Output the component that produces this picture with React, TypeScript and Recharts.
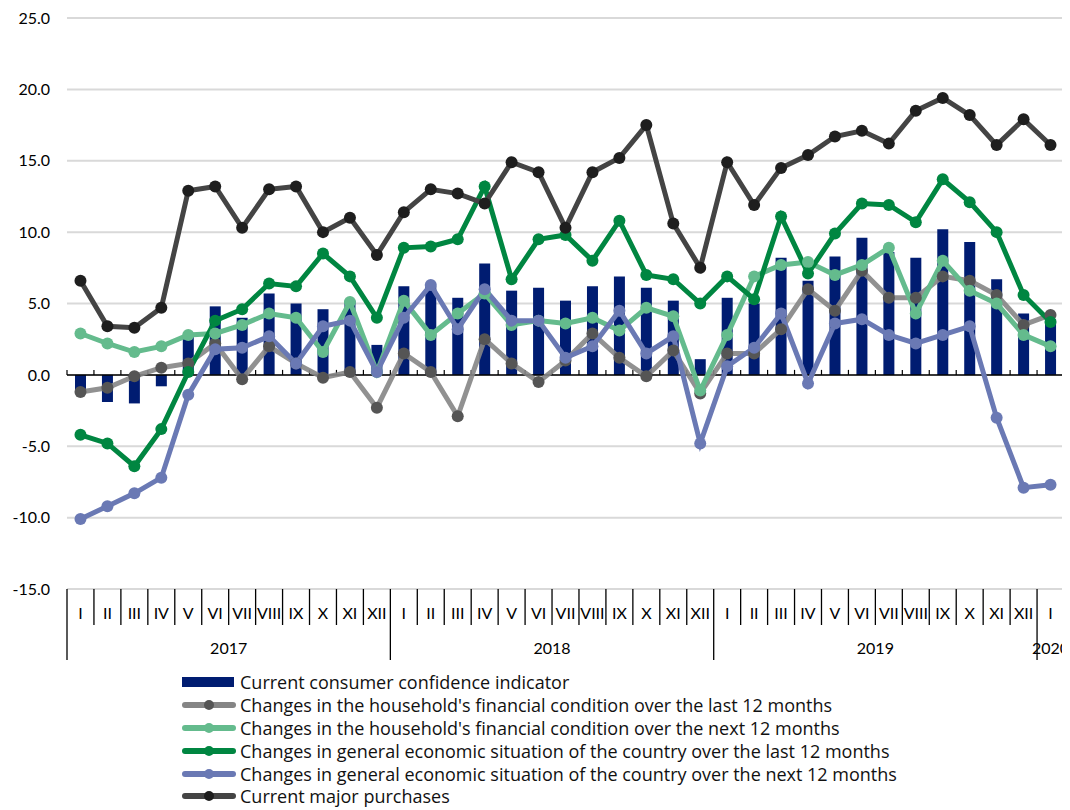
import React from 'react';
import {
  ComposedChart,
  Bar,
  Line,
  XAxis,
  YAxis,
  CartesianGrid,
  ReferenceLine,
  Legend
} from 'recharts';

// Jan 2017 .. Jan 2020
const MONTHS = [
  'I', 'II', 'III', 'IV', 'V', 'VI', 'VII', 'VIII', 'IX', 'X', 'XI', 'XII',
  'I', 'II', 'III', 'IV', 'V', 'VI', 'VII', 'VIII', 'IX', 'X', 'XI', 'XII',
  'I', 'II', 'III', 'IV', 'V', 'VI', 'VII', 'VIII', 'IX', 'X', 'XI', 'XII',
  'I'
];
const YEARS = [
  '2017', '2017', '2017', '2017', '2017', '2017', '2017', '2017', '2017', '2017', '2017', '2017',
  '2018', '2018', '2018', '2018', '2018', '2018', '2018', '2018', '2018', '2018', '2018', '2018',
  '2019', '2019', '2019', '2019', '2019', '2019', '2019', '2019', '2019', '2019', '2019', '2019',
  '2020'
];

const confidence = [
  -1.2, -1.9, -2.0, -0.8, 2.7, 4.8, 4.0, 5.7, 5.0, 4.6, 5.2, 2.1,
  6.2, 6.2, 5.4, 7.8, 5.9, 6.1, 5.2, 6.2, 6.9, 6.1, 5.2, 1.1,
  5.4, 5.0, 8.2, 6.6, 8.3, 9.6, 8.6, 8.2, 10.2, 9.3, 6.7, 4.3,
  3.9
];
const householdLast = [
  -1.2, -0.9, -0.1, 0.5, 0.8, 2.2, -0.3, 2.0, 0.8, -0.2, 0.2, -2.3,
  1.5, 0.2, -2.9, 2.5, 0.8, -0.5, 1.0, 2.9, 1.2, -0.1, 1.7, -1.3,
  1.5, 1.5, 3.2, 6.0, 4.5, 7.3, 5.4, 5.4, 6.9, 6.6, 5.6, 3.5,
  4.2
];
const householdNext = [
  2.9, 2.2, 1.6, 2.0, 2.8, 2.9, 3.5, 4.3, 4.0, 1.6, 5.1, 0.2,
  5.2, 2.8, 4.3, 5.7, 3.5, 3.8, 3.6, 4.0, 3.1, 4.7, 4.1, -1.1,
  2.8, 6.9, 7.7, 7.9, 7.0, 7.7, 8.9, 4.3, 8.0, 5.9, 5.0, 2.8,
  2.0
];
const economyLast = [
  -4.2, -4.8, -6.4, -3.8, 0.2, 3.8, 4.6, 6.4, 6.2, 8.5, 6.9, 4.0,
  8.9, 9.0, 9.5, 13.2, 6.7, 9.5, 9.8, 8.0, 10.8, 7.0, 6.7, 5.0,
  6.9, 5.3, 11.1, 7.1, 9.9, 12.0, 11.9, 10.7, 13.7, 12.1, 10.0, 5.6,
  3.7
];
const economyNext = [
  -10.1, -9.2, -8.3, -7.2, -1.4, 1.8, 1.9, 2.7, 0.8, 3.4, 3.8, 0.2,
  4.0, 6.3, 3.2, 6.0, 3.8, 3.8, 1.2, 2.0, 4.5, 1.5, 2.7, -4.8,
  0.6, 1.9, 4.3, -0.6, 3.6, 3.9, 2.8, 2.2, 2.8, 3.4, -3.0, -7.9,
  -7.7
];
const majorPurchases = [
  6.6, 3.4, 3.3, 4.7, 12.9, 13.2, 10.3, 13.0, 13.2, 10.0, 11.0, 8.4,
  11.4, 13.0, 12.7, 12.0, 14.9, 14.2, 10.3, 14.2, 15.2, 17.5, 10.6, 7.5,
  14.9, 11.9, 14.5, 15.4, 16.7, 17.1, 16.2, 18.5, 19.4, 18.2, 16.1, 17.9,
  16.1
];

const Y_TICKS = [-15, -10, -5, 0, 5, 10, 15, 20, 25];

const SERIES = [
  { key: 'confidence', name: 'Current consumer confidence indicator', color: '#001c71', dot: '#001c71', bar: true },
  { key: 'householdLast', name: "Changes in the household's financial condition over the last 12 months", color: '#858585', dot: '#555555' },
  { key: 'householdNext', name: "Changes in the household's financial condition over the next 12 months", color: '#64bb8d', dot: '#64bb8d' },
  { key: 'economyLast', name: 'Changes in general economic situation of the country over the last 12 months', color: '#008641', dot: '#008641' },
  { key: 'economyNext', name: 'Changes in general economic situation of the country over the next 12 months', color: '#6a79b4', dot: '#6a79b4' },
  { key: 'majorPurchases', name: 'Current major purchases', color: '#444444', dot: '#1e1e1e' }
];

const data = MONTHS.map((month, i) => ({
  period: `${month} ${YEARS[i]}`,
  month,
  year: YEARS[i],
  confidence: confidence[i],
  householdLast: householdLast[i],
  householdNext: householdNext[i],
  economyLast: economyLast[i],
  economyNext: economyNext[i],
  majorPurchases: majorPurchases[i]
}));

const WIDTH = 1062;
const HEIGHT = 800;
const LEGEND_H = 138;
const MARGIN = { top: 10, right: 6, bottom: 0, left: 0 };
const Y_AXIS_W = 59;
const BAND = (WIDTH - MARGIN.left - MARGIN.right - Y_AXIS_W) / data.length;

const AXIS_FONT = 'Lato, "DejaVu Sans", sans-serif';
const LEGEND_FONT = '"Open Sans", "DejaVu Sans", sans-serif';

const PeriodTick = (props: any) => {
  const { x, y, payload } = props;
  const i = props.index ?? payload.index;
  const row = data[i];
  if (!row) return null;
  const half = BAND / 2;
  const left = x - half;
  const firstOfYear = i === 0 || data[i - 1].year !== row.year;
  const monthsInYear = data.filter((d) => d.year === row.year).length;
  return (
    <g>
      <line x1={left} x2={left} y1={y} y2={y + (firstOfYear ? 71 : 36)} stroke="#000" strokeWidth={1.3} />
      <text x={x} y={y + 30} textAnchor="middle" fontSize={16} fontFamily={AXIS_FONT} fill="#000">
        {row.month}
      </text>
      {firstOfYear && (
        <text x={left + monthsInYear * half} y={y + 65} textAnchor="middle" fontSize={16} fontFamily={AXIS_FONT} fill="#000">
          {row.year}
        </text>
      )}
      {i === data.length - 1 && (
        <line x1={x + half} x2={x + half} y1={y} y2={y + 71} stroke="#000" strokeWidth={1.3} />
      )}
    </g>
  );
};

// zero line with small ticks at the month boundaries
const ZeroLine = (props: any) => {
  const { x1, x2, y1 } = props;
  const step = (x2 - x1) / data.length;
  return (
    <g>
      <line x1={x1} x2={x2} y1={y1} y2={y1} stroke="#000" strokeWidth={1.5} />
      {data.map((_, k) => (
        <line key={k} x1={x1 + (k + 1) * step} x2={x1 + (k + 1) * step} y1={y1 - 5} y2={y1} stroke="#000" strokeWidth={1.2} />
      ))}
      <line x1={x1} x2={x1} y1={y1 - 5} y2={y1} stroke="#000" strokeWidth={1.2} />
    </g>
  );
};

const LegendContent = () => (
  <div style={{ height: LEGEND_H, paddingLeft: 174, paddingTop: 1, boxSizing: 'border-box', fontFamily: LEGEND_FONT }}>
    {SERIES.map((s) => (
      <div key={s.key} style={{ display: 'flex', alignItems: 'center', height: 22.8 }}>
        <svg width={58} height={14} style={{ flex: 'none' }}>
          {s.bar ? (
            <rect x={0} y={2} width={52} height={10} fill={s.color} />
          ) : (
            <g>
              <line x1={3} x2={51} y1={7} y2={7} stroke={s.color} strokeWidth={6} strokeLinecap="round" />
              <circle cx={27} cy={7} r={5} fill={s.dot} />
            </g>
          )}
        </svg>
        <span style={{ fontSize: 18, lineHeight: '22px', color: '#111', whiteSpace: 'nowrap' }}>{s.name}</span>
      </div>
    ))}
  </div>
);

export default function App() {
  return (
    <ComposedChart width={WIDTH} height={HEIGHT} data={data} margin={MARGIN} style={{ overflow: 'visible' }}>
      <CartesianGrid horizontal vertical={false} stroke="#d9d9d9" strokeWidth={2} />
      <XAxis
        dataKey="period"
        interval={0}
        axisLine={false}
        tickLine={false}
        tickSize={0}
        tickMargin={0}
        height={81}
        tick={<PeriodTick />}
      />
      <YAxis
        domain={[-15, 25]}
        ticks={Y_TICKS}
        interval={0}
        width={Y_AXIS_W}
        axisLine={false}
        tickLine={false}
        tickMargin={11}
        tickFormatter={(v: number) => v.toFixed(1)}
        tick={{ fill: '#000', fontSize: 16, fontFamily: AXIS_FONT }}
      />
      <Legend verticalAlign="bottom" align="left" content={<LegendContent />} wrapperStyle={{ height: LEGEND_H }} />
      <Bar dataKey="confidence" name={SERIES[0].name} fill={SERIES[0].color} barSize={11} isAnimationActive={false} />
      <ReferenceLine y={0} shape={<ZeroLine />} />
      {SERIES.filter((s) => !s.bar).map((s) => (
        <Line
          key={s.key}
          type="linear"
          dataKey={s.key}
          name={s.name}
          stroke={s.color}
          strokeWidth={5}
          strokeOpacity={s.key === 'householdLast' ? 0.9 : 1}
          dot={{ r: 6, fill: s.dot, stroke: 'none', strokeWidth: 0 }}
          activeDot={false}
          isAnimationActive={false}
        />
      ))}
    </ComposedChart>
  );
}
